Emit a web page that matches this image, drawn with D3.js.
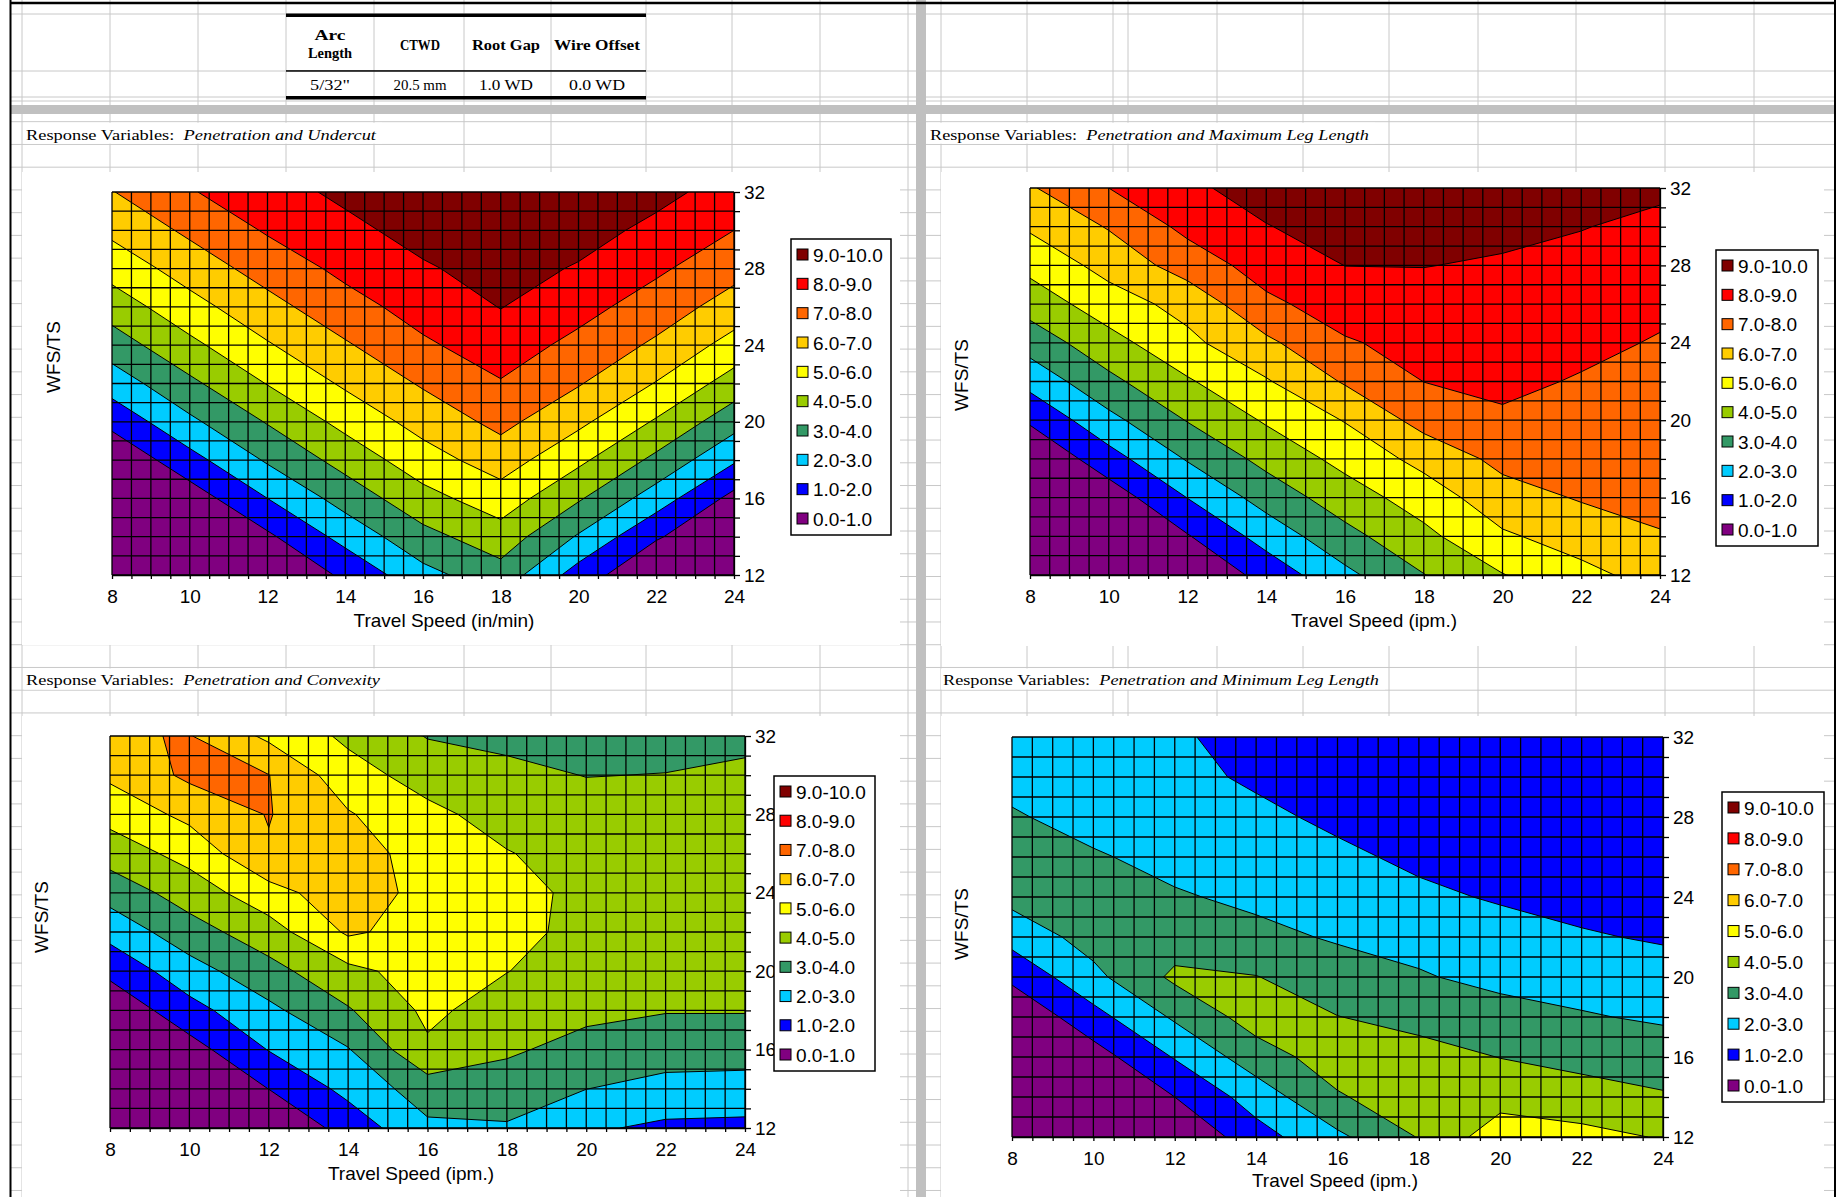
<!DOCTYPE html>
<html>
<head>
<meta charset="utf-8">
<title>Penetration response contours</title>
<script src="https://cdn.jsdelivr.net/npm/d3@7"></script>
<style>
  body { margin: 0; background: #fff; }
  .chart text { font-family: "Liberation Sans", Arial, sans-serif; font-size: 19px; fill: #000; }
  .sheet text { font-family: "Liberation Serif", "Times New Roman", serif; fill: #000; }
</style>
</head>
<body>
<svg width="1843" height="1197"></svg>
<script>

// sample grid of the response surfaces
var speeds = [8, 10, 12, 14, 16, 18, 20, 22, 24];
var wfsRatios = [12, 14, 16, 18, 20, 22, 24, 26, 28, 30, 32];

var bandLabels = ["9.0-10.0", "8.0-9.0", "7.0-8.0", "6.0-7.0", "5.0-6.0",
                  "4.0-5.0", "3.0-4.0", "2.0-3.0", "1.0-2.0", "0.0-1.0"];
var bandColors = ["#800000", "#ff0000", "#ff6600", "#ffcc00", "#ffff00",
                  "#99cc00", "#339966", "#00ccff", "#0000ff", "#800080"];
var bandLows = [9, 8, 7, 6, 5, 4, 3, 2, 1, 0];

var xTicks = [8, 10, 12, 14, 16, 18, 20, 22, 24];
var yTicks = [12, 16, 20, 24, 28, 32];

var tableHeads = [["Arc", "Length"], ["CTWD"], ["Root Gap"], ["Wire Offset"]];
var tableValues = ["5/32\"", "20.5 mm", "1.0 WD", "0.0 WD"];

// one row per WFS/TS value (12 first, 32 last), one column per travel speed
var undercut = [
  [0, 0, 0, 1.18, 2.69, 3.6, 1.56, 0, 0],
  [0, 0, 0.82, 2.34, 3.69, 4.56, 2.9, 1.11, 0],
  [0, 0.47, 2.0, 3.4, 4.66, 5.54, 4.11, 2.52, 0.69],
  [0.12, 1.65, 3.12, 4.37, 5.57, 6.48, 5.21, 3.76, 2.13],
  [1.29, 2.8, 4.07, 5.3, 6.37, 7.27, 6.22, 4.89, 3.39],
  [2.46, 3.79, 5.04, 6.15, 7.11, 7.93, 7.07, 5.95, 4.56],
  [3.5, 4.76, 5.91, 6.89, 7.85, 8.49, 7.73, 6.83, 5.63],
  [4.46, 5.65, 6.67, 7.63, 8.39, 9.03, 8.34, 7.53, 6.57],
  [5.39, 6.44, 7.41, 8.24, 8.88, 9.4, 8.91, 8.17, 7.33],
  [6.22, 7.19, 8.1, 8.73, 9.37, 9.7, 9.4, 8.74, 8.0],
  [6.96, 7.93, 8.59, 9.22, 9.85, 9.9, 9.8, 9.3, 8.57]
];

var maxLeg = [
  [0, 0, 0, 1.36, 2.76, 3.97, 4.96, 5.72, 6.39],
  [0, 0, 0.93, 2.4, 3.69, 4.75, 5.86, 6.43, 6.96],
  [0, 0.43, 2.02, 3.4, 4.53, 5.46, 6.6, 7.08, 7.17],
  [0, 1.61, 3.08, 4.3, 5.3, 6.31, 7.27, 7.37, 7.36],
  [1.15, 2.72, 4.05, 5.11, 6.05, 7.36, 7.87, 7.65, 7.55],
  [2.33, 3.76, 4.89, 5.91, 7.1, 8.01, 8.19, 7.93, 7.74],
  [3.43, 4.64, 5.76, 6.8, 7.9, 8.33, 8.43, 8.21, 7.93],
  [4.41, 5.54, 6.33, 7.79, 8.47, 8.67, 8.67, 8.48, 8.19],
  [5.29, 6.34, 7.44, 8.43, 9.01, 9.02, 8.91, 8.76, 8.5],
  [6.14, 7.07, 8.26, 8.97, 9.3, 9.25, 9.2, 9.03, 8.81],
  [6.9, 8.0, 8.86, 9.3, 9.55, 9.5, 9.45, 9.3, 9.15]
];

var convexity = [
  [0, 0, 0, 1.4, 2.8, 2.9, 2.15, 1.8, 1.75],
  [0, 0, 1.01, 2.28, 3.51, 3.51, 3.01, 2.7, 2.63],
  [0, 0.59, 2.04, 2.94, 4.85, 4.15, 3.65, 3.42, 3.41],
  [0.19, 1.66, 2.77, 3.91, 5.2, 4.57, 4.25, 4.05, 4.05],
  [1.26, 2.59, 3.67, 4.73, 5.45, 5.02, 4.55, 4.35, 4.3],
  [2.33, 3.59, 4.55, 6.15, 5.6, 5.3, 4.72, 4.5, 4.45],
  [3.4, 4.45, 5.63, 6.6, 5.65, 5.35, 4.75, 4.55, 4.5],
  [4.43, 5.35, 6.9, 6.55, 5.5, 5.05, 4.6, 4.45, 4.45],
  [5.35, 6.25, 7.05, 6.08, 5.25, 4.6, 4.35, 4.25, 4.3],
  [6.18, 7.2, 7.02, 5.4, 4.6, 4.2, 3.98, 4.02, 4.12],
  [6.9, 7.05, 5.8, 4.8, 3.95, 3.8, 3.6, 3.7, 3.85]
];

var minLeg = [
  [0, 0, 0, 1.6, 2.8, 4.05, 5.6, 5.3, 4.93],
  [0, 0, 1.0, 2.45, 3.9, 4.6, 4.6, 4.4, 4.1],
  [0, 0.55, 2.07, 3.53, 4.5, 4.35, 3.98, 3.7, 3.5],
  [0.09, 1.66, 3.14, 4.45, 4.02, 3.7, 3.35, 3.08, 2.87],
  [1.23, 2.74, 4.2, 4.03, 3.45, 3.08, 2.75, 2.6, 2.4],
  [2.36, 3.4, 3.5, 3.25, 2.9, 2.7, 2.4, 2.09, 1.9],
  [3.3, 3.55, 3.1, 2.8, 2.55, 2.2, 1.9, 1.7, 1.6],
  [3.55, 3.1, 2.7, 2.5, 2.2, 1.8, 1.6, 1.45, 1.4],
  [3.1, 2.65, 2.4, 2.22, 1.8, 1.55, 1.4, 1.3, 1.25],
  [2.7, 2.4, 2.28, 1.85, 1.55, 1.35, 1.25, 1.15, 1.1],
  [2.4, 2.2, 2.15, 1.6, 1.35, 1.2, 1.1, 1.05, 1.05]
];

// layout of the four chart objects on the sheet
var charts = [
  { values: undercut, response: "Penetration and Undercut", xTitle: "Travel Speed (in/min)",
    frame: [22, 172, 900, 645], plot: [112, 192, 734, 575], legend: [791, 239, 100, 296],
    head: [26, 135, 350], yLab: [53, 357], xLab: [444, 620] },
  { values: maxLeg, response: "Penetration and Maximum Leg Length", xTitle: "Travel Speed (ipm.)",
    frame: [941, 172, 1824, 646], plot: [1030, 188, 1660, 575], legend: [1716, 250, 102, 296],
    head: [930, 135, 439], yLab: [961, 375], xLab: [1374, 620] },
  { values: convexity, response: "Penetration and Convexity", xTitle: "Travel Speed (ipm.)",
    frame: [22, 716, 900, 1197], plot: [110, 736, 745, 1128], legend: [774, 776, 101, 295],
    head: [26, 680, 354], yLab: [41, 917], xLab: [411, 1173] },
  { values: minLeg, response: "Penetration and Minimum Leg Length", xTitle: "Travel Speed (ipm.)",
    frame: [941, 716, 1824, 1197], plot: [1012, 737, 1663, 1137], legend: [1722, 792, 102, 310],
    head: [943, 680, 436], yLab: [961, 924], xLab: [1335, 1180] }
];

var svg = d3.select("svg");
var sheet = svg.append("g").attr("class", "sheet");

// spreadsheet cell grid
var rowLines = [14, 71, 97, 101].concat(d3.range(121.7, 1197, 22.74));
var colLines = [22, 110, 198, 286, 374, 464, 551, 646, 732, 820, 908,
                941, 1027, 1113, 1128, 1217, 1303, 1389, 1478, 1576, 1665, 1754];

sheet.selectAll("line.row").data(rowLines).join("line").attr("class", "row")
    .attr("x1", 11).attr("x2", 1834)
    .attr("y1", function(d) { return d; }).attr("y2", function(d) { return d; })
    .attr("stroke", "#c8c8c8").attr("stroke-width", 1);
sheet.selectAll("line.col").data(colLines).join("line").attr("class", "col")
    .attr("x1", function(d) { return d; }).attr("x2", function(d) { return d; })
    .attr("y1", 0).attr("y2", 1197)
    .attr("stroke", "#c8c8c8").attr("stroke-width", 1);

// frozen pane bars
sheet.append("rect").attr("x", 11).attr("y", 105).attr("width", 1823).attr("height", 9).attr("fill", "#c0c0c0");
sheet.append("rect").attr("x", 916).attr("y", 0).attr("width", 10).attr("height", 1197).attr("fill", "#c0c0c0");

// chart objects hide the cell grid
charts.forEach(function(c) {
  sheet.append("rect")
      .attr("x", c.frame[0]).attr("y", c.frame[1])
      .attr("width", c.frame[2] - c.frame[0]).attr("height", c.frame[3] - c.frame[1])
      .attr("fill", "#fff");
});

// window border
sheet.append("line").attr("x1", 10.5).attr("x2", 10.5).attr("y1", 0).attr("y2", 1197).attr("stroke", "#000").attr("stroke-width", 2);
sheet.append("line").attr("x1", 1835).attr("x2", 1835).attr("y1", 0).attr("y2", 1197).attr("stroke", "#000").attr("stroke-width", 2);
sheet.append("line").attr("x1", 10).attr("x2", 1836).attr("y1", 3).attr("y2", 3).attr("stroke", "#000").attr("stroke-width", 2.5);

// parameter table
var tableCenters = [330, 420, 506, 597];
var headWidths = [[31, 44], [40], [68], [86]];
var valueWidths = [40, 53, 54, 56];
sheet.append("rect").attr("x", 286).attr("y", 13.5).attr("width", 360).attr("height", 3.5).attr("fill", "#000");
sheet.append("rect").attr("x", 286).attr("y", 70.2).attr("width", 360).attr("height", 1.5).attr("fill", "#000");
sheet.append("rect").attr("x", 286).attr("y", 96).attr("width", 360).attr("height", 3.5).attr("fill", "#000");

tableHeads.forEach(function(lines, i) {
  lines.forEach(function(txt, k) {
    var yy = lines.length === 1 ? 45 : (k === 0 ? 35 : 53);
    sheet.append("text")
        .attr("x", tableCenters[i]).attr("y", yy).attr("dy", "0.35em")
        .attr("text-anchor", "middle")
        .style("font-size", "14px").style("font-weight", "bold")
        .attr("textLength", headWidths[i][k]).attr("lengthAdjust", "spacingAndGlyphs")
        .text(txt);
  });
});
tableValues.forEach(function(txt, i) {
  sheet.append("text")
      .attr("x", tableCenters[i]).attr("y", 85).attr("dy", "0.35em")
      .attr("text-anchor", "middle")
      .style("font-size", "14px")
      .attr("textLength", valueWidths[i]).attr("lengthAdjust", "spacingAndGlyphs")
      .text(txt);
});

// "Response Variables" captions
charts.forEach(function(c) {
  var rowTop = d3.max(rowLines.filter(function(r) { return r < c.head[1] - 4; }));
  sheet.append("rect").attr("x", c.head[0] - 2).attr("y", rowTop + 1)
      .attr("width", c.head[2] + 8).attr("height", 21).attr("fill", "#fff");
  var t = sheet.append("text")
      .attr("x", c.head[0]).attr("y", c.head[1]).attr("dy", "0.35em")
      .style("font-size", "15px")
      .attr("textLength", c.head[2]).attr("lengthAdjust", "spacingAndGlyphs");
  t.append("tspan").text("Response Variables:\u00a0\u00a0");
  t.append("tspan").style("font-style", "italic").text(c.response);
});

// contour charts
charts.forEach(function(c, i) {
  var g = svg.append("g").attr("class", "chart");
  var p = c.plot;

  var x = d3.scaleLinear().domain([speeds[0], speeds[speeds.length - 1]]).range([p[0], p[2]]);
  var y = d3.scaleLinear().domain([wfsRatios[0], wfsRatios[wfsRatios.length - 1]]).range([p[3], p[1]]);

  // d3.contours puts sample k at k + 0.5
  var gx = d3.scaleLinear().domain([0.5, speeds.length - 0.5]).range(x.domain());
  var gy = d3.scaleLinear().domain([0.5, wfsRatios.length - 0.5]).range(y.domain());
  var path = d3.geoPath(d3.geoTransform({
    point: function(cx, cy) { this.stream.point(x(gx(cx)), y(gy(cy))); }
  }));

  var levels = bandLows.slice().sort(d3.ascending);
  var contours = d3.contours()
      .size([speeds.length, wfsRatios.length])
      .thresholds(levels)(d3.merge(c.values));

  g.append("clipPath").attr("id", "plotclip" + i)
    .append("rect").attr("x", p[0]).attr("y", p[1])
      .attr("width", p[2] - p[0]).attr("height", p[3] - p[1]);

  var area = g.append("g").attr("clip-path", "url(#plotclip" + i + ")");
  area.selectAll("path.band").data(contours).join("path").attr("class", "band")
      .attr("d", path)
      .attr("fill", function(d) { return bandColors[bandLows.indexOf(d.value)]; });
  area.selectAll("path.iso").data(contours.filter(function(d) { return d.value > 0; }))
    .join("path").attr("class", "iso")
      .attr("d", path)
      .attr("fill", "none").attr("stroke", "#000").attr("stroke-width", 1);

  // black data grid
  g.selectAll("line.gx").data(d3.range(8, 24.01, 0.5)).join("line").attr("class", "gx")
      .attr("x1", function(d) { return x(d); }).attr("x2", function(d) { return x(d); })
      .attr("y1", p[1]).attr("y2", p[3])
      .attr("stroke", "#000").attr("stroke-width", 1.3);
  g.selectAll("line.gy").data(d3.range(12, 32.01, 1)).join("line").attr("class", "gy")
      .attr("x1", p[0]).attr("x2", p[2])
      .attr("y1", function(d) { return y(d); }).attr("y2", function(d) { return y(d); })
      .attr("stroke", "#000").attr("stroke-width", 1.3);

  // axes
  var yAxis = d3.axisRight(y)
      .tickValues(d3.range(12, 32.01, 1))
      .tickSize(6).tickSizeOuter(0).tickPadding(4)
      .tickFormat(function(d) { return yTicks.indexOf(d) >= 0 ? d : ""; });
  var xAxis = d3.axisBottom(x)
      .tickValues(d3.range(8, 24.01, 0.5))
      .tickSize(4).tickSizeOuter(0).tickPadding(11)
      .tickFormat(function(d) { return xTicks.indexOf(d) >= 0 ? d : ""; });

  var ya = g.append("g").attr("transform", "translate(" + p[2] + ",0)").call(yAxis);
  var xa = g.append("g").attr("transform", "translate(0," + p[3] + ")").call(xAxis);
  [ya, xa].forEach(function(a) {
    a.selectAll("path, line").attr("stroke", "#000").attr("stroke-width", 1.3);
    a.selectAll("text").attr("fill", "#000").style("font-size", "19px")
        .style("font-family", "\"Liberation Sans\", Arial, sans-serif");
  });

  g.append("text")
      .attr("transform", "translate(" + c.yLab[0] + "," + c.yLab[1] + ") rotate(-90)")
      .attr("text-anchor", "middle").attr("dy", "0.35em")
      .text("WFS/TS");
  g.append("text")
      .attr("x", c.xLab[0]).attr("y", c.xLab[1]).attr("dy", "0.35em")
      .attr("text-anchor", "middle")
      .text(c.xTitle);

  // legend
  var L = c.legend;
  var lg = g.append("g").attr("transform", "translate(" + L[0] + "," + L[1] + ")");
  lg.append("rect").attr("width", L[2]).attr("height", L[3])
      .attr("fill", "#fff").attr("stroke", "#000").attr("stroke-width", 1.5);
  var step = (L[3] - 32) / 9;
  var item = lg.selectAll("g.item").data(bandLabels).join("g").attr("class", "item")
      .attr("transform", function(d, k) { return "translate(0," + (16 + k * step) + ")"; });
  item.append("rect").attr("x", 6).attr("y", -6).attr("width", 11).attr("height", 11)
      .attr("fill", function(d, k) { return bandColors[k]; })
      .attr("stroke", "#000").attr("stroke-width", 1);
  item.append("text").attr("x", 22).attr("dy", "0.35em").text(function(d) { return d; });
});

</script>
</body>
</html>
